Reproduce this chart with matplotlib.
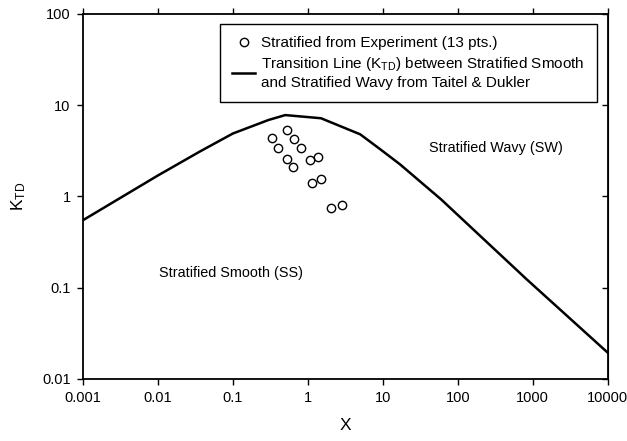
import numpy as np
import matplotlib
matplotlib.use("Agg")
import matplotlib.pyplot as plt

plt.rcParams["font.family"] = ["Liberation Sans", "DejaVu Sans"]
plt.rcParams["mathtext.fontset"] = "custom"
plt.rcParams["mathtext.rm"] = "Liberation Sans"
plt.rcParams["mathtext.it"] = "Liberation Sans"

# Taitel & Dukler transition line
line_x = [0.001, 0.01, 0.036, 0.1, 0.3, 0.5, 1.5, 5, 9, 17, 60, 830, 10000]
line_k = [0.55, 1.7, 3.1, 4.9, 6.9, 7.8, 7.2, 4.8, 3.35, 2.25, 0.93, 0.124, 0.0195]

# experimental points (13 pts.)
exp_x = [0.53, 0.333, 0.65, 0.40, 0.81, 0.53, 0.625, 1.06, 1.35, 1.12, 1.49, 2.03, 2.9]
exp_k = [5.36, 4.32, 4.24, 3.44, 3.38, 2.56, 2.08, 2.52, 2.74, 1.40, 1.57, 0.74, 0.80]

xticks = [0.001, 0.01, 0.1, 1, 10, 100, 1000, 10000]
xlabels = ["0.001", "0.01", "0.1", "1", "10", "100", "1000", "10000"]
yticks = [0.01, 0.1, 1, 10, 100]
ylabels = ["0.01", "0.1", "1", "10", "100"]

fig = plt.figure(figsize=(6.27, 4.41), dpi=100)
ax = fig.add_axes([0.1324, 0.1406, 0.8366, 0.8277])

ax.plot(exp_x, exp_k, "o", mfc="white", mec="black", ms=6, mew=1.0,
        label="Stratified from Experiment (13 pts.)", zorder=3)
ax.plot(line_x, line_k, "-", color="black", lw=1.8,
        label="Transition Line (K$_{\\rm TD}$) between Stratified Smooth\nand Stratified Wavy from Taitel & Dukler")

ax.set_xscale("log")
ax.set_yscale("log")
ax.set_xlim(0.001, 10000)
ax.set_ylim(0.01, 100)
ax.set_xticks(xticks)
ax.set_xticklabels(xlabels)
ax.set_yticks(yticks)
ax.set_yticklabels(ylabels)
ax.minorticks_off()
ax.tick_params(direction="out", length=4, width=1, labelsize=10.5, pad=5)
ax.tick_params(axis="x", which="both", top=True)
for sp in ax.spines.values():
    sp.set_linewidth(1.3)

# right side ticks point inward
ax_r = ax.secondary_yaxis("right")
ax_r.set_yticks(yticks)
ax_r.set_yticklabels([])
ax_r.tick_params(direction="in", length=4, width=1)
ax_r.minorticks_off()

ax.set_xlabel("X", fontsize=12.5, labelpad=9)
ax.set_ylabel("K$_{\\rm TD}$", fontsize=12.5, labelpad=10)

ax.text(0.093, 0.145, "Stratified Smooth (SS)", fontsize=10.4, ha="center", va="center")
ax.text(320, 3.36, "Stratified Wavy (SW)", fontsize=10.4, ha="center", va="center")

leg = ax.legend(loc="upper right", bbox_to_anchor=(0.980, 0.973), fontsize=11,
                frameon=True, fancybox=False, edgecolor="black", framealpha=1,
                handlelength=1.5, handletextpad=0.4, labelspacing=0.35,
                borderpad=0.8, borderaxespad=0)
leg.get_frame().set_linewidth(1.0)

fig.savefig("out.png", dpi=100)
